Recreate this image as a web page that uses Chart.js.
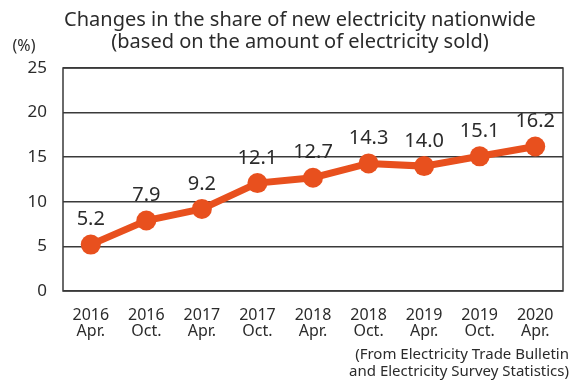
<!DOCTYPE html>
<html lang="en">
<head>
    <meta charset="UTF-8">
    <title>Share of new electricity nationwide</title>
    <script src="https://cdn.jsdelivr.net/npm/chart.js@4/dist/chart.umd.min.js"></script>
    <style>
        body { margin: 0; background: #fff; }
        #wrap { width: 573px; height: 386px; }
    </style>
</head>
<body>
    <div id="wrap"><canvas id="shareChart"></canvas></div>

    <script>
        const periods = [
            ['2016', 'Apr.'], ['2016', 'Oct.'], ['2017', 'Apr.'], ['2017', 'Oct.'],
            ['2018', 'Apr.'], ['2018', 'Oct.'], ['2019', 'Apr.'], ['2019', 'Oct.'], ['2020', 'Apr.']
        ];
        const shares = [5.2, 7.9, 9.2, 12.1, 12.7, 14.3, 14.0, 15.1, 16.2];
        const yTicks = [0, 5, 10, 15, 20, 25];

        const titleLines = ['Changes in the share of new electricity nationwide', '(based on the amount of electricity sold)'];
        const sourceLines = ['(From Electricity Trade Bulletin', 'and Electricity Survey Statistics)'];

        const FONT = '"Noto Sans", sans-serif';
        const TEXT = '#2b2b2b';
        const ORANGE = '#e8501e';

        // titles, unit, frame, value labels and source note
        const decorations = {
            id: 'decorations',
            beforeDatasetsDraw(chart) {
                const { ctx, chartArea: a } = chart;
                ctx.save();
                ctx.strokeStyle = '#3a3a3a';
                ctx.lineWidth = 1.5;
                ctx.strokeRect(a.left, a.top, a.right - a.left, a.bottom - a.top);
                ctx.restore();
            },
            afterDraw(chart) {
                const { ctx, chartArea: a } = chart;
                ctx.save();
                ctx.fillStyle = TEXT;
                ctx.textAlign = 'center';
                ctx.textBaseline = 'middle';
                ctx.font = '20px ' + FONT;
                ctx.fillText(titleLines[0], 300, 20);
                ctx.fillText(titleLines[1], 300, 42);

                ctx.font = '16px ' + FONT;
                ctx.fillText('(%)', 24, 46);

                const meta = chart.getDatasetMeta(0);
                ctx.font = '20px ' + FONT;
                meta.data.forEach((pt, i) => {
                    ctx.fillText(shares[i].toFixed(1), pt.x, pt.y - 25);
                });

                ctx.font = '15px ' + FONT;
                ctx.textAlign = 'right';
                ctx.fillText(sourceLines[0], 569, 355);
                ctx.fillText(sourceLines[1], 569, 372);
                ctx.restore();
            }
        };

        new Chart(document.getElementById('shareChart'), {
            type: 'line',
            data: {
                labels: periods,
                datasets: [{
                    data: shares,
                    borderColor: ORANGE,
                    backgroundColor: ORANGE,
                    borderWidth: 7,
                    pointRadius: 10,
                    pointHoverRadius: 10,
                    pointBorderWidth: 0,
                    tension: 0
                }]
            },
            options: {
                responsive: true,
                maintainAspectRatio: false,
                animation: false,
                layout: { padding: { top: 68, right: 3, left: 0, bottom: 0 } },
                plugins: { legend: { display: false }, tooltip: { enabled: false } },
                scales: {
                    x: {
                        offset: true,
                        grid: { display: false },
                        border: { display: false },
                        ticks: { color: TEXT, font: { family: FONT, size: 16, lineHeight: 1.0 }, padding: 8, maxRotation: 0 },
                        afterFit: s => { s.height = 95; }
                    },
                    y: {
                        min: 0,
                        max: 25,
                        afterBuildTicks: s => { s.ticks = yTicks.map(v => ({ value: v })); },
                        grid: { color: '#3a3a3a', lineWidth: 1.5, drawTicks: false },
                        border: { display: false },
                        ticks: { color: TEXT, font: { family: FONT, size: 17 }, padding: 16 },
                        afterFit: s => { s.width = 63; }
                    }
                }
            },
            plugins: [decorations]
        });
    </script>
</body>
</html>
